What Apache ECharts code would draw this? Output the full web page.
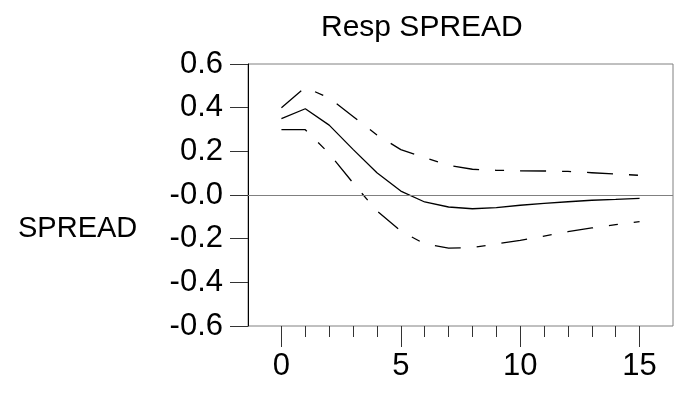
<!DOCTYPE html>
<html>
<head>
<meta charset="utf-8">
<script src="https://cdn.jsdelivr.net/npm/echarts@6/dist/echarts.min.js"></script>
<style>
  html, body { margin: 0; padding: 0; background: #fff; }
  #chart { width: 677px; height: 393px; }
</style>
</head>
<body>
<div id="chart"></div>
<script>
// periods 0..15
var periods = [0, 1, 2, 3, 4, 5, 6, 7, 8, 9, 10, 11, 12, 13, 14, 15];
// impulse response and +/- 2 s.e. bands
var resp  = [0.35, 0.395, 0.32, 0.209, 0.102, 0.018, -0.032, -0.055, -0.063, -0.058, -0.047, -0.038, -0.031, -0.024, -0.020, -0.015];
var upper = [0.40, 0.493, 0.444, 0.36, 0.275, 0.208, 0.171, 0.136, 0.118, 0.113, 0.111, 0.110, 0.108, 0.102, 0.096, 0.090];
var lower = [0.299, 0.299, 0.19, 0.055, -0.073, -0.165, -0.224, -0.243, -0.241, -0.224, -0.208, -0.188, -0.168, -0.151, -0.136, -0.122];
var majorTicks = [0, 5, 10, 15];

function pairs(ys) {
    return periods.map(function (p, i) { return [p, ys[i]]; });
}

var font = "'Liberation Sans', Arial, sans-serif";
var dashed = [26, 16, 9, 16];

option = {
    animation: false,
    backgroundColor: '#fff',
    title: [
        {
            text: 'Resp SPREAD',
            left: 316, top: 8,
            textStyle: { fontFamily: font, fontSize: 30, fontWeight: 'normal', color: '#000' }
        },
        {
            text: 'SPREAD',
            left: 13, top: 209,
            textStyle: { fontFamily: font, fontSize: 29, fontWeight: 'normal', color: '#000' }
        }
    ],
    grid: {
        left: 248, right: 4, top: 64, bottom: 67,
        show: true, borderColor: '#808080', borderWidth: 1
    },
    xAxis: [
        {   // major ticks and labels
            type: 'value', min: -1.4, max: 16.4,
            splitLine: { show: false },
            axisLine: { show: false, onZero: false },
            axisTick: { show: true, length: 21, customValues: majorTicks, lineStyle: { color: '#333' } },
            axisLabel: { customValues: majorTicks, margin: 25, fontFamily: font, fontSize: 31, color: '#000' }
        },
        {   // minor ticks every period
            type: 'value', min: -1.4, max: 16.4, position: 'bottom',
            splitLine: { show: false },
            axisLine: { show: false, onZero: false },
            axisTick: { show: true, length: 11, customValues: periods, lineStyle: { color: '#333' } },
            axisLabel: { show: false }
        }
    ],
    yAxis: {
        type: 'value', min: -0.6, max: 0.6, interval: 0.2,
        splitLine: { show: false },
        axisLine: { show: true, onZero: false, lineStyle: { color: '#000' } },
        axisTick: { show: true, length: 18, lineStyle: { color: '#333' } },
        axisLabel: {
            margin: 25, fontFamily: font, fontSize: 31, color: '#000',
            formatter: function (v) {
                var r = Math.round(v * 10) / 10;
                return r === 0 ? '-0.0' : r.toFixed(1);
            }
        }
    },
    series: [
        {
            name: 'resp', type: 'line', data: pairs(resp), showSymbol: false,
            lineStyle: { color: '#000', width: 1.3 },
            markLine: {
                silent: true, symbol: 'none', label: { show: false },
                lineStyle: { color: '#808080', width: 1, type: 'solid' },
                data: [{ yAxis: 0 }]
            }
        },
        {
            name: 'upper', type: 'line', data: pairs(upper), showSymbol: false,
            lineStyle: { color: '#000', width: 1.3, type: dashed }
        },
        {
            name: 'lower', type: 'line', data: pairs(lower), showSymbol: false,
            lineStyle: { color: '#000', width: 1.3, type: dashed }
        }
    ]
};
var myChart = echarts.init(document.getElementById("chart"));
myChart.setOption(option, true);
</script>
</body>
</html>
